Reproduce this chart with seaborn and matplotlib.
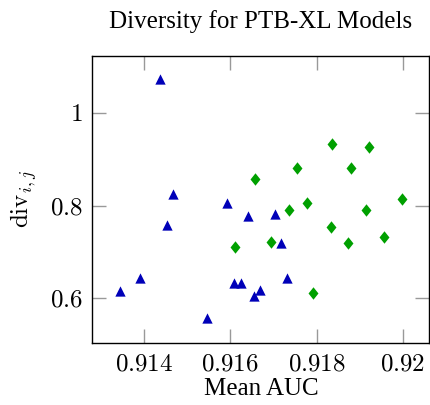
import matplotlib
matplotlib.use("Agg")
import matplotlib.pyplot as plt
from matplotlib.ticker import FixedLocator, FuncFormatter
import numpy as np
import pandas as pd
import seaborn as sns

# --- Data ---
blue_auc = [0.91438, 0.91468, 0.91593, 0.91641, 0.91453, 0.91391, 0.91345, 0.91546,
            0.91608, 0.91624, 0.91656, 0.91703, 0.91717, 0.91732, 0.91670]
blue_div = [1.073, 0.824, 0.806, 0.778, 0.757, 0.644, 0.616, 0.557,
            0.632, 0.633, 0.606, 0.782, 0.719, 0.644, 0.619]

green_auc = [0.91837, 0.91921, 0.91755, 0.91879, 0.91658, 0.91778, 0.91736, 0.91915,
             0.91999, 0.91833, 0.91694, 0.91874, 0.91957, 0.91611, 0.91791]
green_div = [0.932, 0.926, 0.880, 0.880, 0.857, 0.806, 0.7905, 0.7905,
             0.814, 0.754, 0.722, 0.720, 0.732, 0.711, 0.612]

x_ticks = [0.914, 0.916, 0.918, 0.92]
y_ticks = [0.6, 0.8, 1.0]

blue_df = pd.DataFrame({"auc": blue_auc, "div": blue_div})
green_df = pd.DataFrame({"auc": green_auc, "div": green_div})

# --- Style ---
sns.set_theme(style="white")
plt.rcParams["font.family"] = ["Liberation Serif", "DejaVu Serif"]
plt.rcParams["mathtext.fontset"] = "cm"
plt.rcParams["text.color"] = "black"
plt.rcParams["axes.labelcolor"] = "black"
plt.rcParams["xtick.labelcolor"] = "black"
plt.rcParams["ytick.labelcolor"] = "black"

fig = plt.figure(figsize=(4.3, 4.05), dpi=100)
ax = fig.add_axes([0.2147, 0.1523, 0.7841, 0.7102])

# pgfplots-like diamond (wider than matplotlib's thin 'd')
diamond = [(0, 1), (0.8, 0), (0, -1), (-0.8, 0), (0, 1)]

sns.scatterplot(data=blue_df, x="auc", y="div", color="#0000B8", marker="^",
                s=55, linewidth=0, ax=ax)
sns.scatterplot(data=green_df, x="auc", y="div", color="#00A000", marker=diamond,
                s=80, linewidth=0, ax=ax)

ax.set_xlim(0.9128, 0.92062)
ax.set_ylim(0.503, 1.123)
ax.xaxis.set_major_locator(FixedLocator(x_ticks))
ax.yaxis.set_major_locator(FixedLocator(y_ticks))
ax.xaxis.set_major_formatter(FuncFormatter(lambda v, p: f"${v:g}$"))
ax.yaxis.set_major_formatter(FuncFormatter(lambda v, p: f"${v:g}$"))
ax.tick_params(direction="in", length=10, width=1, color="#999999",
               labelsize=18, top=True, right=True, bottom=True, left=True)
ax.tick_params(axis="x", pad=7)
ax.tick_params(axis="y", pad=7)

for sp in ax.spines.values():
    sp.set_color("black")
    sp.set_linewidth(1)

ax.set_xlabel("Mean AUC", fontsize=18, labelpad=2)
ax.set_ylabel(r"$\mathrm{div}_{i,j}$", fontsize=18, labelpad=8)
ax.set_title("Diversity for PTB-XL Models", fontsize=18, pad=20)

fig.savefig("out.png", dpi=100)
